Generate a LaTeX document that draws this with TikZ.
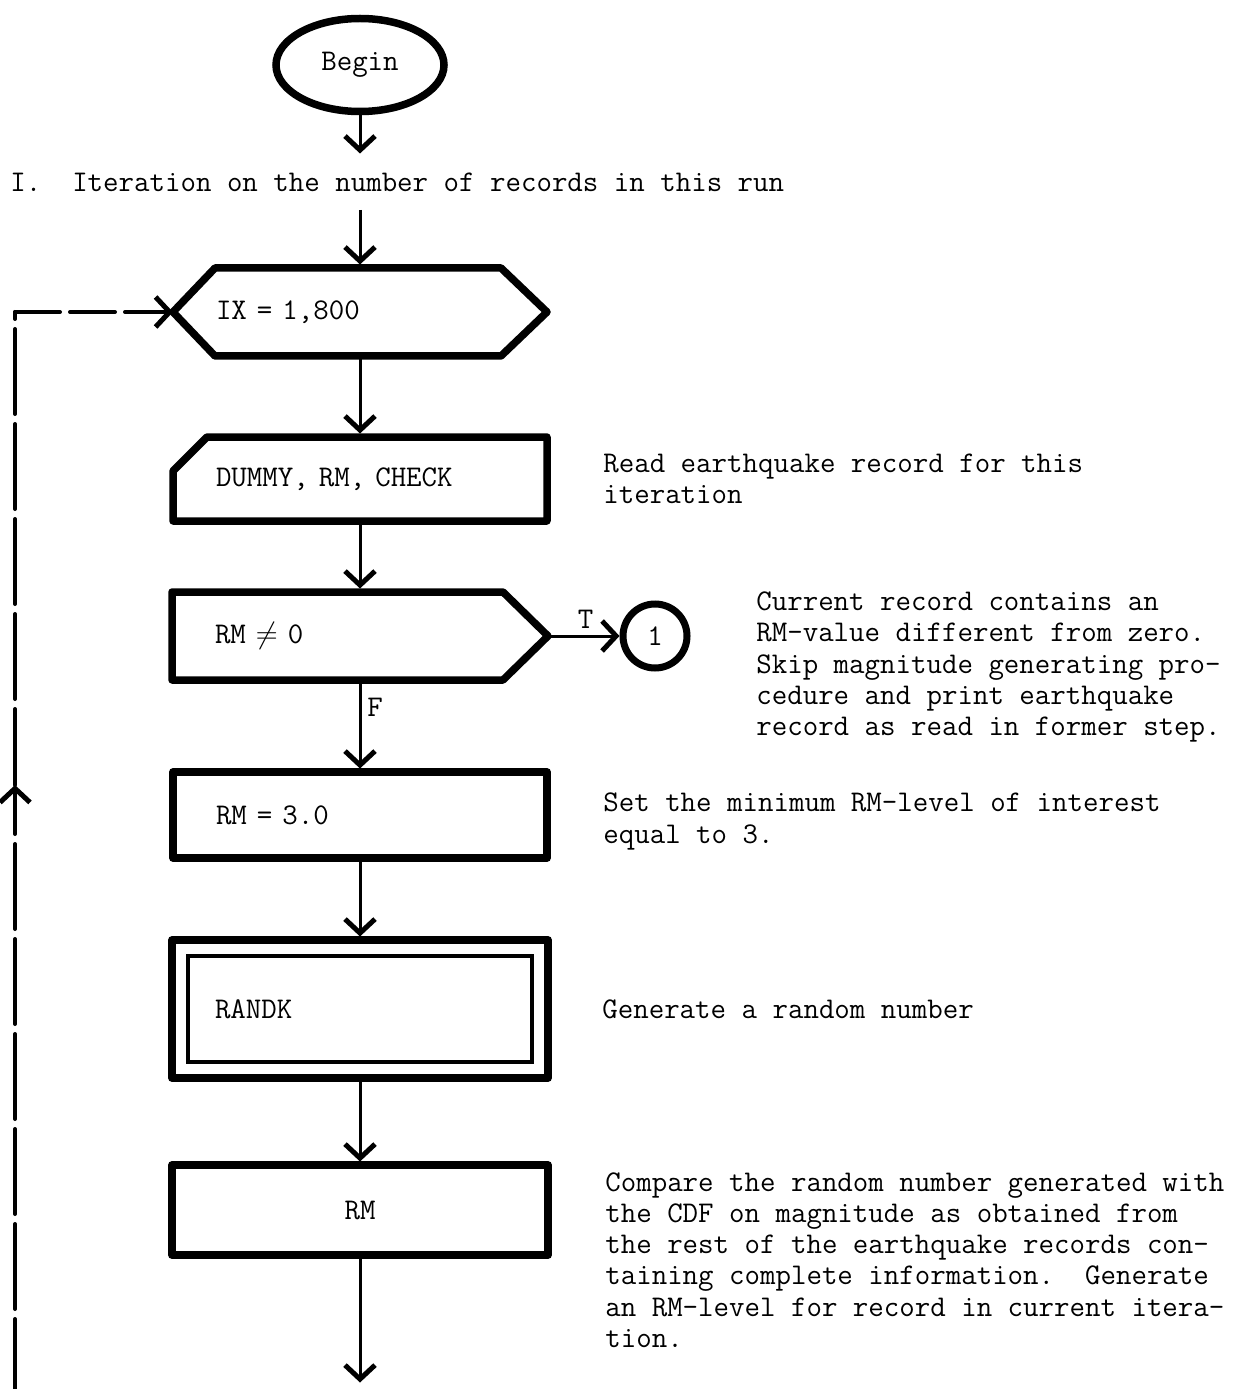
\documentclass[tikz,border=0pt]{standalone}
\usepackage{fontspec}
\usetikzlibrary{shapes.geometric, arrows.meta, positioning}
\newcommand{\flowfont}{\fontsize{17.1pt}{17.8pt}\selectfont\ttfamily}
\frenchspacing

\begin{document}
\begin{tikzpicture}[
    font=\flowfont,
    terminal/.style={ellipse, draw, line width=0.15cm, minimum width=3.36cm, minimum height=1.86cm, inner sep=0pt, outer sep=0pt},
    block/.style={rectangle, outer sep=0pt, inner xsep=0.86cm, inner ysep=0pt, text width=5.76cm, align=left, line join=round},
    outline/.style={line width=0.15cm, line join=round},
    note/.style={align=left, inner sep=0pt},
    arrow/.style={line width=0.06cm, -{Straight Barb[length=0.28cm, width=0.6cm, line width=0.1cm]}, shorten >=0.07cm},
    loopline/.style={line width=0.08cm, line cap=round}
]
\useasboundingbox (0,0) rectangle (24.74,-27.78);

% Nodes
\node (begin) [terminal] at (7.2,-1.3) {Begin};
\node (head) [anchor=west, inner sep=0pt] at (0.2,-3.64) {I.\ \ Iteration on the number of records in this run};
\coordinate (b1) at (7.2,-3.14);
\coordinate (b2) at (7.2,-4.2);
\node (ix) [block, minimum height=1.76cm] at (7.2,-6.24) {IX = 1,800};
\node (dummy) [block, minimum height=1.68cm] at (7.2,-9.58) {DUMMY, RM, CHECK};
\node (chk) [block, text width=5.8cm, minimum height=1.76cm] at (7.2,-12.72) {RM $\neq$ 0};
\node (one) [circle, draw, line width=0.14cm, minimum size=1.28cm, inner sep=0pt, outer sep=0pt] at (13.1,-12.72) {1};
\node (rmset) [block, draw, line width=0.15cm, minimum height=1.72cm] at (7.2,-16.3) {RM = 3.0};
\node (randk) [block, draw, line width=0.15cm, text width=5.8cm, minimum height=2.76cm] at (7.2,-20.18) {RANDK};
\node (rmgen) [block, draw, line width=0.15cm, text width=5.8cm, minimum height=1.8cm, align=center] at (7.2,-24.2) {RM};
\coordinate (tail) at (7.2,-27.72);

% Outlines
\draw[outline] ([xshift=0.84cm]ix.north west) -- ([xshift=-0.92cm]ix.north east) -- (ix.east) -- ([xshift=-0.92cm]ix.south east) -- ([xshift=0.84cm]ix.south west) -- (ix.west) -- cycle;
\draw[outline] ([yshift=-0.68cm]dummy.north west) -- ([xshift=0.68cm]dummy.north west) -- (dummy.north east) -- (dummy.south east) -- (dummy.south west) -- cycle;
\draw[outline] (chk.north west) -- ([xshift=-0.9cm]chk.north east) -- (chk.east) -- ([xshift=-0.9cm]chk.south east) -- (chk.south west) -- cycle;
\draw[line width=0.09cm] ([shift={(0.32cm,-0.32cm)}]randk.north west) rectangle ([shift={(-0.32cm,0.32cm)}]randk.south east);

% Notes
\node (readnote) [note, right=1.12cm of dummy] {Read earthquake record for this\\iteration};
\node (curnote) [note, right=1.38cm of one, yshift=-0.62cm] {Current record contains an\\RM-value different from zero.\\Skip magnitude generating pro-\\cedure and print earthquake\\record as read in former step.};
\node (setnote) [note, right=1.12cm of rmset, yshift=-0.13cm] {Set the minimum RM-level of interest\\equal to 3.};
\node (randnote) [note, right=1.08cm of randk] {Generate a random number};
\node (cmpnote) [note, right=1.14cm of rmgen, yshift=-1.0cm] {Compare the random number generated with\\the CDF on magnitude as obtained from\\the rest of the earthquake records con-\\taining complete information.\ \ Generate\\an RM-level for record in current itera-\\tion.};

% Connections
\draw [arrow] (begin) -- (b1);
\draw [arrow] (b2) -- (ix);
\draw [arrow] (ix) -- (dummy);
\draw [arrow] (dummy) -- (chk);
\draw [arrow] (chk.east) -- node[above] {T} (one);
\draw [arrow] (chk) -- node[pos=0.3, right] {F} (rmset);
\draw [arrow] (rmset) -- (randk);
\draw [arrow] (randk) -- (rmgen);
\draw [arrow] (rmgen) -- (tail);

% Loop back
\coordinate (loopbot) at (0.3,-27.78);
\coordinate (loopmid) at (0.3,-15.7);
\coordinate (loopcorner) at (loopmid |- ix.west);
\draw [loopline, dash pattern=on 1.7cm off 0.2cm, dash phase=0.3cm, -{Straight Barb[length=0.28cm, width=0.6cm, line width=0.1cm]}] (loopbot) -- (loopmid);
\draw [loopline, dash pattern=on 1.7cm off 0.2cm, dash phase=0.18cm] (loopmid) -- (loopcorner);
\draw [loopline, dash pattern=on 0.9cm off 0.2cm, -{Straight Barb[length=0.28cm, width=0.6cm, line width=0.1cm]}] (loopcorner) -- (ix.west);

\end{tikzpicture}
\end{document}
